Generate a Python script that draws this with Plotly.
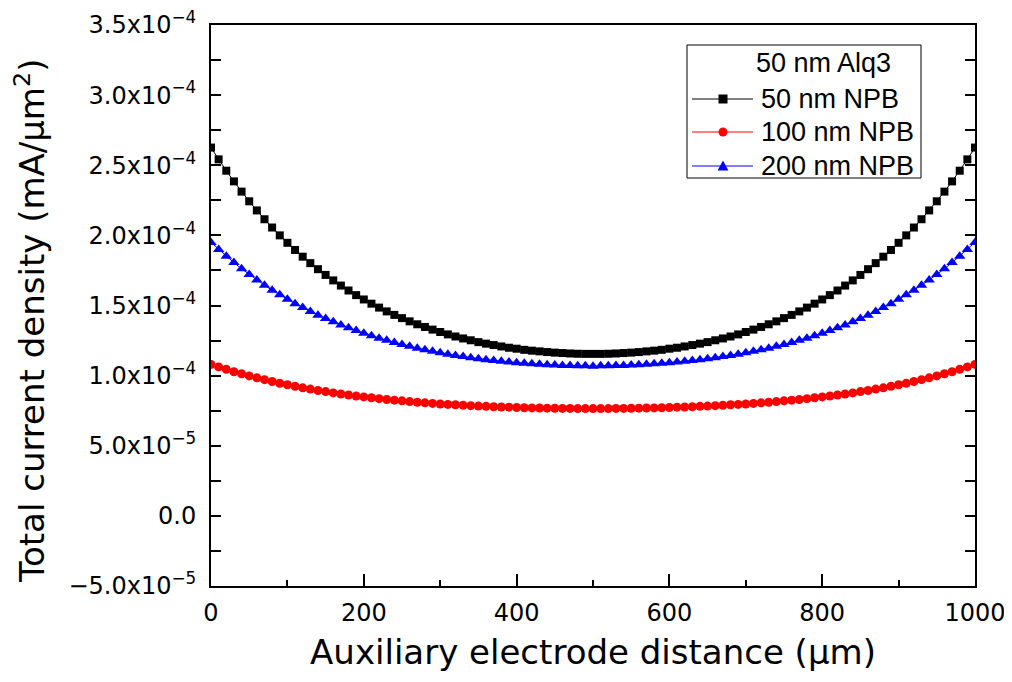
import plotly.graph_objects as go

# distance along the auxiliary electrode (um)
distance = list(range(0, 1001, 10))

# current density, units of 1e-4 mA/um^2
npb_50 = [
    2.626, 2.542, 2.461, 2.385, 2.312, 2.243, 2.178, 2.115, 2.056, 2.000,
    1.947, 1.896, 1.848, 1.802, 1.759, 1.718, 1.679, 1.642, 1.607, 1.574,
    1.543, 1.513, 1.485, 1.458, 1.433, 1.410, 1.387, 1.366, 1.347, 1.328,
    1.311, 1.294, 1.279, 1.265, 1.252, 1.239, 1.228, 1.218, 1.208, 1.199,
    1.192, 1.184, 1.178, 1.173, 1.168, 1.164, 1.161, 1.158, 1.156, 1.155,
    1.155,
    1.155, 1.156, 1.158, 1.161, 1.164, 1.168, 1.173, 1.178, 1.184, 1.192,
    1.199, 1.208, 1.218, 1.228, 1.239, 1.252, 1.265, 1.279, 1.294, 1.311,
    1.328, 1.347, 1.366, 1.387, 1.410, 1.433, 1.458, 1.485, 1.513, 1.543,
    1.574, 1.607, 1.642, 1.679, 1.718, 1.759, 1.802, 1.848, 1.896, 1.947,
    2.000, 2.056, 2.115, 2.178, 2.243, 2.312, 2.385, 2.461, 2.542, 2.626,
]
npb_100 = [
    1.080, 1.062, 1.045, 1.028, 1.013, 0.998, 0.984, 0.971, 0.958, 0.946,
    0.935, 0.924, 0.913, 0.904, 0.894, 0.886, 0.877, 0.869, 0.862, 0.855,
    0.848, 0.842, 0.836, 0.830, 0.825, 0.820, 0.815, 0.810, 0.806, 0.802,
    0.798, 0.795, 0.792, 0.789, 0.786, 0.783, 0.781, 0.778, 0.776, 0.775,
    0.773, 0.771, 0.770, 0.769, 0.768, 0.767, 0.766, 0.766, 0.765, 0.765,
    0.765,
    0.765, 0.765, 0.766, 0.766, 0.767, 0.768, 0.769, 0.770, 0.771, 0.773,
    0.775, 0.776, 0.778, 0.781, 0.783, 0.786, 0.789, 0.792, 0.795, 0.798,
    0.802, 0.806, 0.810, 0.815, 0.820, 0.825, 0.830, 0.836, 0.842, 0.848,
    0.855, 0.862, 0.869, 0.877, 0.886, 0.894, 0.904, 0.913, 0.924, 0.935,
    0.946, 0.958, 0.971, 0.984, 0.998, 1.013, 1.028, 1.045, 1.062, 1.080,
]
npb_200 = [
    1.950, 1.900, 1.852, 1.806, 1.762, 1.721, 1.682, 1.645, 1.609, 1.576,
    1.544, 1.513, 1.485, 1.457, 1.431, 1.407, 1.384, 1.361, 1.341, 1.321,
    1.302, 1.284, 1.267, 1.252, 1.237, 1.222, 1.209, 1.196, 1.185, 1.174,
    1.163, 1.153, 1.144, 1.136, 1.128, 1.121, 1.114, 1.108, 1.102, 1.097,
    1.092, 1.088, 1.084, 1.081, 1.078, 1.075, 1.073, 1.072, 1.071, 1.070,
    1.066,
    1.070, 1.071, 1.072, 1.073, 1.075, 1.078, 1.081, 1.084, 1.088, 1.092,
    1.097, 1.102, 1.108, 1.114, 1.121, 1.128, 1.136, 1.144, 1.153, 1.163,
    1.174, 1.185, 1.196, 1.209, 1.222, 1.237, 1.252, 1.267, 1.284, 1.302,
    1.321, 1.341, 1.361, 1.384, 1.407, 1.431, 1.457, 1.485, 1.513, 1.544,
    1.576, 1.609, 1.645, 1.682, 1.721, 1.762, 1.806, 1.852, 1.900, 1.950,
]

legend_title = "50 nm Alq3"

y_tickvals = [-0.5, 0.0, 0.5, 1.0, 1.5, 2.0, 2.5, 3.0, 3.5]
y_ticktext = [
    "\u22125.0x10<sup>\u22125</sup>", "0.0", "5.0x10<sup>\u22125</sup>",
    "1.0x10<sup>\u22124</sup>", "1.5x10<sup>\u22124</sup>", "2.0x10<sup>\u22124</sup>",
    "2.5x10<sup>\u22124</sup>", "3.0x10<sup>\u22124</sup>", "3.5x10<sup>\u22124</sup>",
]

AXIS_FONT = "DejaVu Sans"
LEGEND_FONT = "Liberation Sans"

# plot area in page pixels (left, right, top, bottom)
PL, PR, PT, PB = 211, 975, 25, 586


def paper(px, py):
    """page pixel -> paper coordinates"""
    return (px - PL) / (PR - PL), (PB - py) / (PB - PT)


fig = go.Figure()

series = [
    ("50 nm NPB", npb_50, "black", "square", 8),
    ("100 nm NPB", npb_100, "red", "circle", 9),
    ("200 nm NPB", npb_200, "blue", "triangle-up", 10),
]
for name, vals, color, symbol, size in series:
    fig.add_trace(
        go.Scatter(
            x=distance,
            y=vals,
            mode="lines+markers",
            name=name,
            line=dict(color=color, width=1),
            marker=dict(symbol=symbol, size=size, color=color),
            showlegend=False,
        )
    )

# ---- hand-drawn legend box (Origin style) ----
bx0, by0 = paper(687, 178)
bx1, by1 = paper(921, 45)
fig.add_shape(type="rect", xref="paper", yref="paper", x0=bx0, y0=by0, x1=bx1, y1=by1,
              line=dict(color="black", width=1), fillcolor="white", layer="above")
tx, ty = paper(823, 63)
fig.add_annotation(text=legend_title, xref="paper", yref="paper", x=tx, y=ty,
                   xanchor="center", yanchor="middle", showarrow=False,
                   font=dict(size=27, family=LEGEND_FONT, color="black"))

rows_py = [99, 132, 166]
for (name, _, color, symbol, _), py in zip(series, rows_py):
    lx0, ly = paper(692, py)
    lx1, _ = paper(753, py)
    fig.add_shape(type="line", xref="paper", yref="paper", x0=lx0, x1=lx1, y0=ly, y1=ly,
                  line=dict(color=color, width=1), layer="above")
    cx, cy = paper(723, py)
    r = 4.5
    hx, hy = r / (PR - PL), r / (PB - PT)
    if symbol == "square":
        fig.add_shape(type="rect", xref="paper", yref="paper",
                      x0=cx - hx, x1=cx + hx, y0=cy - hy, y1=cy + hy,
                      fillcolor=color, line=dict(width=0), layer="above")
    elif symbol == "circle":
        fig.add_shape(type="circle", xref="paper", yref="paper",
                      x0=cx - hx, x1=cx + hx, y0=cy - hy, y1=cy + hy,
                      fillcolor=color, line=dict(width=0), layer="above")
    else:
        path = "M {:.5f},{:.5f} L {:.5f},{:.5f} L {:.5f},{:.5f} Z".format(
            cx - hx * 1.2, cy - hy, cx + hx * 1.2, cy - hy, cx, cy + hy * 1.2)
        fig.add_shape(type="path", xref="paper", yref="paper", path=path,
                      fillcolor=color, line=dict(width=0), layer="above")
    nx, ny = paper(759, py)
    fig.add_annotation(text=name, xref="paper", yref="paper", x=nx, y=ny,
                       xanchor="left", yanchor="middle", showarrow=False,
                       font=dict(size=27, family=LEGEND_FONT, color="black"))

# y title as an annotation so it can sit slightly below the axis centre
fig.add_annotation(
    text="Total current density (mA/\u03bcm<sup>2</sup>)",
    xref="paper", yref="paper",
    x=paper(30, 0)[0], y=paper(0, 321)[1],
    xanchor="center", yanchor="middle",
    textangle=-90,
    showarrow=False,
    font=dict(size=34, family=AXIS_FONT, color="black"),
)

# page body has an 8px margin, so the figure sits at (8, 8)
fig.update_layout(
    width=1004,
    height=666,
    template="plotly_white",
    paper_bgcolor="white",
    plot_bgcolor="white",
    margin=dict(l=PL - 8, r=1012 - PR, t=PT - 8, b=674 - PB),
    font=dict(family=AXIS_FONT, color="black"),
    showlegend=False,
)

fig.update_xaxes(
    range=[0, 1000],
    tickvals=[0, 200, 400, 600, 800, 1000],
    ticks="inside",
    ticklen=12,
    tickwidth=1.5,
    tickcolor="black",
    minor=dict(tickvals=[100, 300, 500, 700, 900], ticks="inside", ticklen=6,
               tickcolor="black", tickwidth=1.5),
    showline=True,
    linecolor="black",
    linewidth=2,
    mirror=True,
    showgrid=False,
    zeroline=False,
    automargin=False,
    ticklabeloverflow="allow",
    ticklabelstandoff=4,
    tickfont=dict(size=24),
    title=dict(text="Auxiliary electrode distance (\u03bcm)", font=dict(size=34), standoff=14),
)

fig.update_yaxes(
    range=[-0.5, 3.5],
    tickvals=y_tickvals,
    ticktext=y_ticktext,
    ticks="inside",
    ticklen=10,
    tickwidth=1.5,
    tickcolor="black",
    minor=dict(tickvals=[-0.25, 0.25, 0.75, 1.25, 1.75, 2.25, 2.75, 3.25],
               ticks="inside", ticklen=10, tickcolor="black", tickwidth=1.5),
    showline=True,
    linecolor="black",
    linewidth=2,
    mirror="ticks",
    showgrid=False,
    zeroline=False,
    automargin=False,
    ticklabeloverflow="allow",
    ticklabelstandoff=8,
    tickfont=dict(size=24),
)

fig.write_html("out.html")
